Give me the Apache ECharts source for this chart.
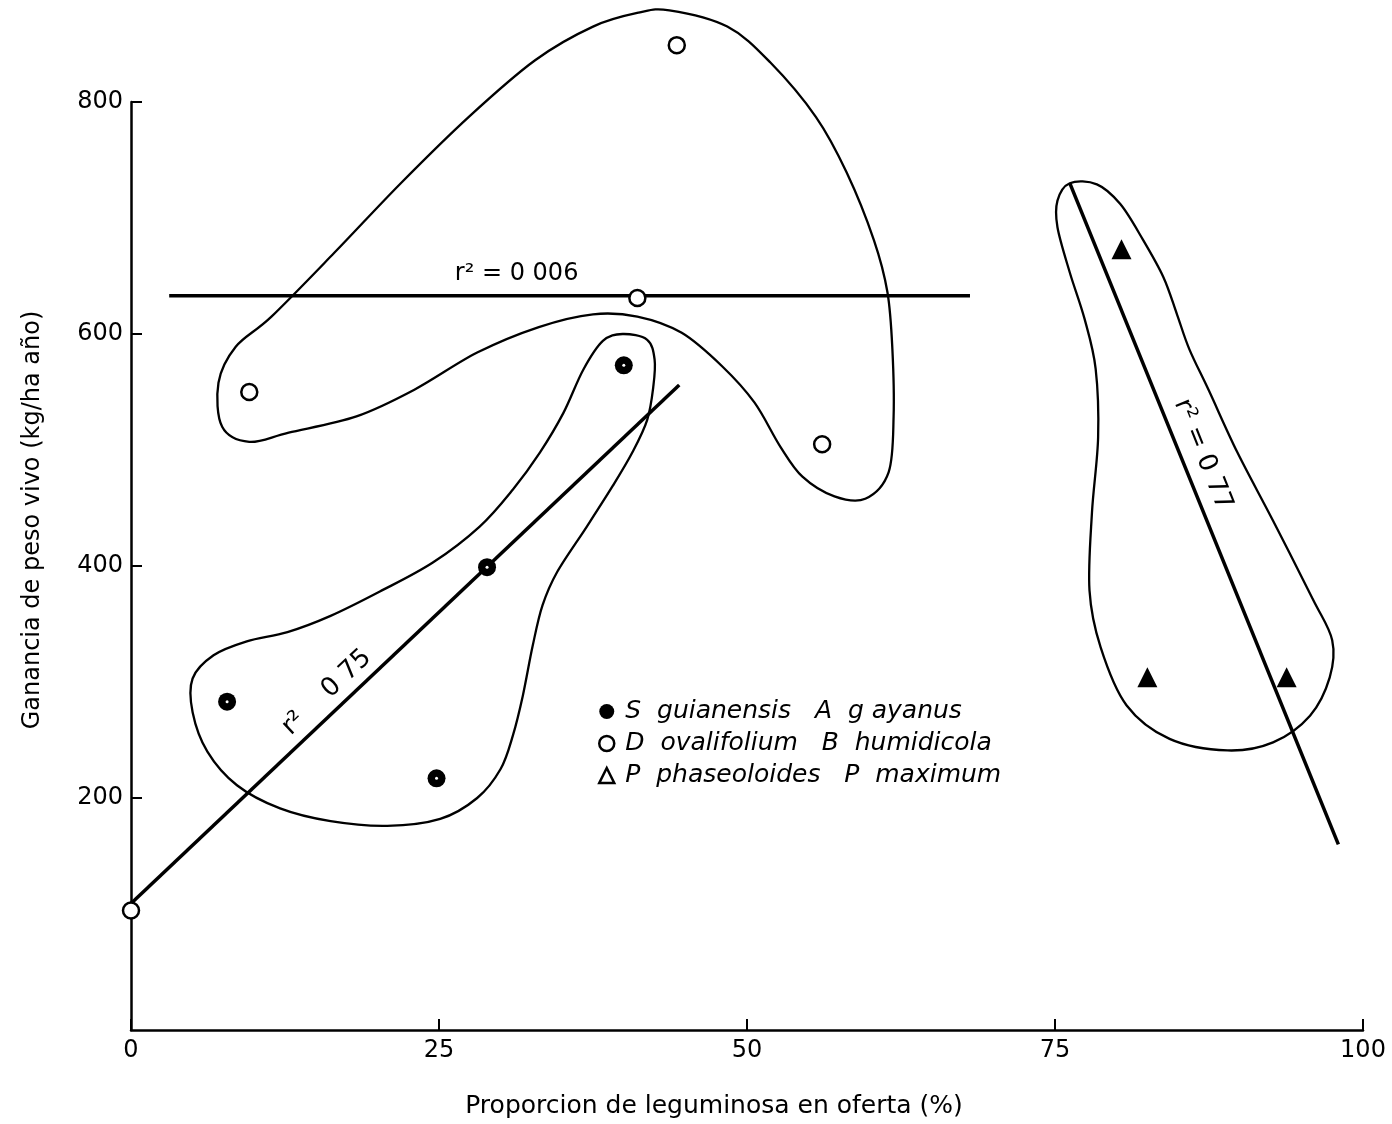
<!DOCTYPE html>
<html>
<head>
<meta charset="utf-8">
<title>Ganancia de peso vivo</title>
<script src="https://cdn.jsdelivr.net/npm/echarts@6.0.0/dist/echarts.min.js"></script>
<style>
html,body{margin:0;padding:0;background:#fff;}
#main{width:1392px;height:1124px;}
</style>
</head>
<body>
<div id="main"></div>
<script>
// puntos observados (x = % leguminosa, y = kg/ha año)
var sgPoints = [[7.8, 283], [24.8, 217], [28.9, 399], [40.0, 573]];
var doPoints = [[0, 103], [9.6, 550], [41.1, 631], [44.3, 849], [56.1, 505]];
var ppPoints = [[80.4, 673], [82.5, 304], [93.8, 304]];

// rectas de regresion
var lineSg = [[0, 109], [44.5, 556]];
var lineDo = [[3.1, 633], [68.1, 633]];
var linePp = [[76.2, 730], [98.0, 160]];

// contornos de los grupos
var outlineDo = [[43.7, 879], [48.4, 865], [51.9, 834], [55.6, 787], [58.1, 739], [60.3, 681], [61.4, 636],
    [61.8, 587], [61.9, 529], [61.5, 481], [59.6, 458], [57.1, 460], [54.5, 477], [52.7, 503], [50.6, 541],
    [48.0, 572], [44.7, 601], [41.1, 615], [37.5, 617], [33.1, 606], [28.1, 584], [23.0, 552], [18.3, 529],
    [12.8, 515], [9.6, 507], [7.4, 520], [7.1, 558], [8.5, 589], [11.4, 615], [16.5, 670], [21.9, 730],
    [27.4, 787], [32.8, 836], [37.5, 865], [41.2, 877]];
var outlineSg = [[39.9, 600], [41.9, 595], [42.5, 578], [42.4, 555], [41.9, 526], [40.7, 498], [39.1, 469],
    [37.0, 434], [34.6, 395], [33.4, 366], [32.6, 331], [31.8, 288], [31.0, 254], [30.0, 225], [28.1, 200],
    [25.1, 182], [20.8, 176], [16.2, 180], [12.1, 191], [8.6, 211], [6.2, 240], [5.0, 274], [5.0, 303],
    [6.7, 323], [9.4, 335], [12.7, 343], [16.2, 357], [20.2, 378], [24.5, 403], [28.3, 434], [31.0, 466],
    [33.2, 498], [35.1, 532], [36.7, 569], [38.3, 594]];
var outlinePp = [[76.2, 730], [78.4, 729], [80.3, 712], [82.1, 682], [83.8, 649], [84.9, 617], [85.9, 587],
    [87.5, 551], [89.8, 498], [92.7, 439], [95.9, 372], [97.5, 336], [97.3, 304], [95.7, 271], [92.7, 248],
    [89.0, 241], [84.3, 251], [80.8, 280], [78.7, 330], [77.8, 379], [78.0, 446], [78.5, 511], [78.3, 570],
    [77.4, 613], [76.2, 653], [75.2, 692], [75.2, 715]];

// textos r2
var noteText = ['r\u00b2 = 0 006', 'r\u00b2    0 75', 'r\u00b2 = 0 77'];
var noteX = [31.3, 15.9, 87.0];
var noteY = [652, 291, 496];
var noteAngle = [0, 43.4, -68];

var legendNames = ['S  guianensis   A  g ayanus', 'D  ovalifolium   B  humidicola', 'P  phaseoloides   P  maximum'];

var fontFam = '"DejaVu Sans", Verdana, sans-serif';
var blobs = [outlineDo, outlineSg, outlinePp];

// curva cerrada tipo catmull-rom a traves de los puntos del contorno
var closedPath = function(px){
    var len = px.length;
    var d = 'M' + px[0][0] + ' ' + px[0][1];
    for(var i = 0; i < len; i++){
        var p0 = px[(i - 1 + len) % len], p1 = px[i], p2 = px[(i + 1) % len], p3 = px[(i + 2) % len];
        var c1x = p1[0] + (p2[0] - p0[0]) / 6, c1y = p1[1] + (p2[1] - p0[1]) / 6;
        var c2x = p2[0] - (p3[0] - p1[0]) / 6, c2y = p2[1] - (p3[1] - p1[1]) / 6;
        d += 'C' + c1x + ' ' + c1y + ' ' + c2x + ' ' + c2y + ' ' + p2[0] + ' ' + p2[1];
    }
    return d + 'Z';
};

var renderBlob = function(params, api){
    var pts = blobs[api.value(2)];
    var px = [];
    for(var i = 0; i < pts.length; i++){
        px.push(api.coord(pts[i]));
    }
    return {
        type: 'path',
        silent: true,
        shape: {pathData: closedPath(px)},
        style: {fill: 'none', stroke: '#000', lineWidth: 2.3}
    };
};

var renderNote = function(params, api){
    var i = api.value(2);
    var p = api.coord([api.value(0), api.value(1)]);
    return {
        type: 'text',
        silent: true,
        x: p[0],
        y: p[1],
        rotation: noteAngle[i] * Math.PI / 180,
        style: {
            text: noteText[i],
            fill: '#000',
            font: (i == 0 ? '24px ' : '26px ') + fontFam,
            align: 'center',
            verticalAlign: 'middle'
        }
    };
};

var blobData = [], noteData = [];
for(var b = 0; b < blobs.length; b++){
    blobData.push([blobs[b][0][0], blobs[b][0][1], b]);
}
for(var n = 0; n < noteText.length; n++){
    noteData.push([noteX[n], noteY[n], n]);
}

var lineStyle = {color: '#000', width: 3.5};

var option = {
    animation: false,
    backgroundColor: '#fff',
    grid: {left: 131, right: 29, top: 102, bottom: 92},
    legend: {
        orient: 'vertical',
        left: 593,
        top: 694,
        itemWidth: 15,
        itemHeight: 15,
        itemGap: 7,
        selectedMode: false,
        textStyle: {fontSize: 25, fontStyle: 'italic', color: '#000', fontFamily: fontFam, padding: [0, 0, 0, 6]},
        data: [
            {name: legendNames[0], icon: 'circle', itemStyle: {color: '#000', borderWidth: 0}},
            {name: legendNames[1], icon: 'circle', itemStyle: {color: '#fff', borderColor: '#000', borderWidth: 2.5}},
            {name: legendNames[2], icon: 'triangle', itemStyle: {color: '#fff', borderColor: '#000', borderWidth: 2.5}}
        ]
    },
    xAxis: {
        type: 'value',
        min: 0,
        max: 100,
        interval: 25,
        name: 'Proporcion de leguminosa en oferta (%)',
        nameLocation: 'middle',
        nameGap: 64,
        nameTextStyle: {fontSize: 25, color: '#000', fontFamily: fontFam, padding: [0, 66, 0, 0]},
        axisLine: {lineStyle: {color: '#000', width: 2.5}},
        axisTick: {inside: true, length: 11, lineStyle: {color: '#000', width: 2}},
        axisLabel: {fontSize: 24, color: '#000', fontFamily: fontFam, margin: 9},
        splitLine: {show: false}
    },
    yAxis: {
        type: 'value',
        min: 0,
        max: 800,
        interval: 200,
        name: 'Ganancia de peso vivo (kg/ha a\u00f1o)',
        nameLocation: 'middle',
        nameGap: 86,
        nameTextStyle: {fontSize: 24, color: '#000', fontFamily: fontFam, padding: [0, 0, 0, 92]},
        axisLine: {lineStyle: {color: '#000', width: 2.5}},
        axisTick: {inside: true, length: 11, lineStyle: {color: '#000', width: 2}},
        axisLabel: {fontSize: 24, color: '#000', fontFamily: fontFam, margin: 8, showMinLabel: false},
        splitLine: {show: false}
    },
    series: [
        {type: 'custom', name: 'contornos', renderItem: renderBlob, data: blobData, clip: false, silent: true, z: 2},
        {type: 'line', name: 'reg-sg', data: lineSg, symbol: 'none', lineStyle: lineStyle, clip: false, z: 3},
        {type: 'line', name: 'reg-do', data: lineDo, symbol: 'none', lineStyle: lineStyle, clip: false, z: 3},
        {type: 'line', name: 'reg-pp', data: linePp, symbol: 'none', lineStyle: lineStyle, clip: false, z: 3},
        {
            type: 'scatter', name: legendNames[0], data: sgPoints, symbol: 'circle', symbolSize: 18,
            itemStyle: {color: '#000', opacity: 1}, clip: false, z: 5
        },
        {
            type: 'scatter', name: 'sg-centro', data: sgPoints, symbol: 'circle', symbolSize: 3,
            itemStyle: {color: '#fff', opacity: 1}, clip: false, silent: true, z: 6
        },
        {
            type: 'scatter', name: legendNames[1], data: doPoints, symbol: 'circle', symbolSize: 16,
            itemStyle: {color: '#fff', borderColor: '#000', borderWidth: 2.5, opacity: 1}, clip: false, z: 5
        },
        {
            type: 'scatter', name: legendNames[2], data: ppPoints, symbol: 'triangle', symbolSize: 20,
            itemStyle: {color: '#000', opacity: 1}, clip: false, z: 5
        },
        {type: 'custom', name: 'notas', renderItem: renderNote, data: noteData, clip: false, silent: true, z: 7}
    ]
};

var chart = echarts.init(document.getElementById('main'), null, {renderer: 'canvas'});
chart.setOption(option);
</script>
</body>
</html>
